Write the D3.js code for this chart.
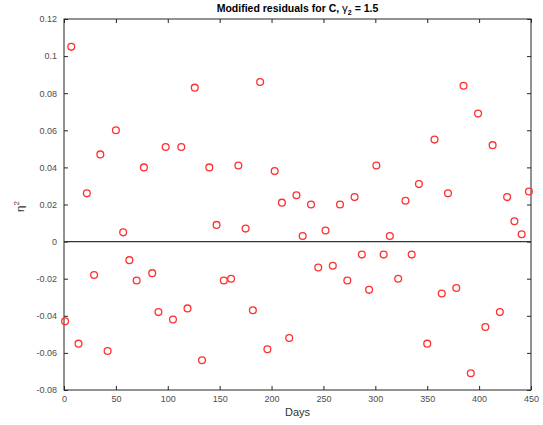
<!DOCTYPE html>
<html>
<head>
<meta charset="utf-8">
<script src="https://cdn.jsdelivr.net/npm/d3@7"></script>
<style>
  body { margin: 0; background: #fff; }
  svg { font-family: "Liberation Sans", Arial, sans-serif; }
</style>
</head>
<body>
<div id="main-vis"></div>
<script>
// residuals, one reading per week
const days = [1, 7, 14, 22, 29, 35, 42, 50, 57, 63, 70, 77, 85, 91, 98, 105, 113, 119, 126, 133,
  140, 147, 154, 161, 168, 175, 182, 189, 196, 203, 210, 217, 224, 230, 238, 245, 252, 259, 266, 273,
  280, 287, 294, 301, 308, 314, 322, 329, 335, 342, 350, 357, 364, 370, 378, 385, 392, 399, 406, 413,
  420, 427, 434, 441, 448]
const residuals = [-0.043, 0.105, -0.055, 0.026, -0.018, 0.047, -0.059, 0.060, 0.005, -0.010,
  -0.021, 0.040, -0.017, -0.038, 0.051, -0.042, 0.051, -0.036, 0.083, -0.064,
  0.040, 0.009, -0.021, -0.020, 0.041, 0.007, -0.037, 0.086, -0.058, 0.038,
  0.021, -0.052, 0.025, 0.003, 0.020, -0.014, 0.006, -0.013, 0.020, -0.021,
  0.024, -0.007, -0.026, 0.041, -0.007, 0.003, -0.020, 0.022, -0.007, 0.031,
  -0.055, 0.055, -0.028, 0.026, -0.025, 0.084, -0.071, 0.069, -0.046, 0.052,
  -0.038, 0.024, 0.011, 0.004, 0.027]
const xTicks = [0, 50, 100, 150, 200, 250, 300, 350, 400, 450]
const yTicks = [-0.08, -0.06, -0.04, -0.02, 0, 0.02, 0.04, 0.06, 0.08, 0.1, 0.12]

const W = 543, H = 425
const m = {top: 19, right: 12, bottom: 35, left: 64}

const svg = d3.select('#main-vis').append('svg')
    .attr('width', W)
    .attr('height', H)

const x = d3.scaleLinear().domain([0, 450]).range([m.left, W - m.right])
const y = d3.scaleLinear().domain([-0.08, 0.12]).range([H - m.bottom, m.top])

const fmt = d => d === 0 ? '0' : String(+d.toFixed(2))
const axisColor = '#262626'

function styleAxis (g, labels) {
    g.select('.domain').remove()
    g.selectAll('line').attr('stroke', axisColor)
    g.selectAll('text')
        .attr('fill', '#4d4d4d')
        .style('font-size', '9px')
        .style('display', labels ? null : 'none')
}

svg.append('g')
    .attr('transform', `translate(0,${H - m.bottom})`)
    .call(d3.axisBottom(x).tickValues(xTicks).tickFormat(fmt).tickSizeInner(-4).tickPadding(6))
    .call(g => styleAxis(g, true))
svg.append('g')
    .attr('transform', `translate(0,${m.top})`)
    .call(d3.axisTop(x).tickValues(xTicks).tickSizeInner(-4))
    .call(g => styleAxis(g, false))
svg.append('g')
    .attr('transform', `translate(${m.left},0)`)
    .call(d3.axisLeft(y).tickValues(yTicks).tickFormat(fmt).tickSizeInner(-4).tickPadding(7))
    .call(g => styleAxis(g, true))
svg.append('g')
    .attr('transform', `translate(${W - m.right},0)`)
    .call(d3.axisRight(y).tickValues(yTicks).tickSizeInner(-4))
    .call(g => styleAxis(g, false))

// box
svg.append('rect')
    .attr('x', m.left).attr('y', m.top)
    .attr('width', W - m.left - m.right)
    .attr('height', H - m.top - m.bottom)
    .attr('fill', 'none')
    .attr('stroke', axisColor)

// zero line
svg.append('line')
    .attr('x1', x(0)).attr('x2', x(450))
    .attr('y1', y(0)).attr('y2', y(0))
    .attr('stroke', '#333')
    .attr('stroke-width', 1.2)

svg.selectAll('circle')
    .data(days.map((d, i) => ({d: d, r: residuals[i]})))
    .join('circle')
        .attr('cx', p => x(p.d))
        .attr('cy', p => y(p.r))
        .attr('r', 3.4)
        .attr('fill', 'none')
        .attr('stroke', '#ff3030')
        .attr('stroke-width', 1.3)

// title
const title = svg.append('text')
    .attr('x', (m.left + W - m.right) / 2)
    .attr('y', 12)
    .attr('text-anchor', 'middle')
    .style('font-size', '10.5px')
    .style('font-weight', 'bold')
    .attr('fill', '#000')
title.append('tspan').text('Modified residuals for C, ')
title.append('tspan').text('γ').style('font-weight', 'normal').style('font-size', '11.5px')
title.append('tspan').text('2').attr('dy', 3).style('font-size', '7px')
title.append('tspan').text(' = 1.5').attr('dy', -3)

// axis labels
svg.append('text')
    .attr('x', x(225))
    .attr('y', H - 9)
    .attr('text-anchor', 'middle')
    .attr('fill', '#333')
    .style('font-size', '11px')
    .text('Days')

const yl = svg.append('text')
    .attr('transform', `translate(24,${y(0.02) + 2}) rotate(-90)`)
    .attr('text-anchor', 'middle')
    .attr('fill', '#333')
    .style('font-size', '11.5px')
yl.append('tspan').text('η')
yl.append('tspan').text('2').attr('dy', -5).style('font-size', '8px')
</script>
</body>
</html>
